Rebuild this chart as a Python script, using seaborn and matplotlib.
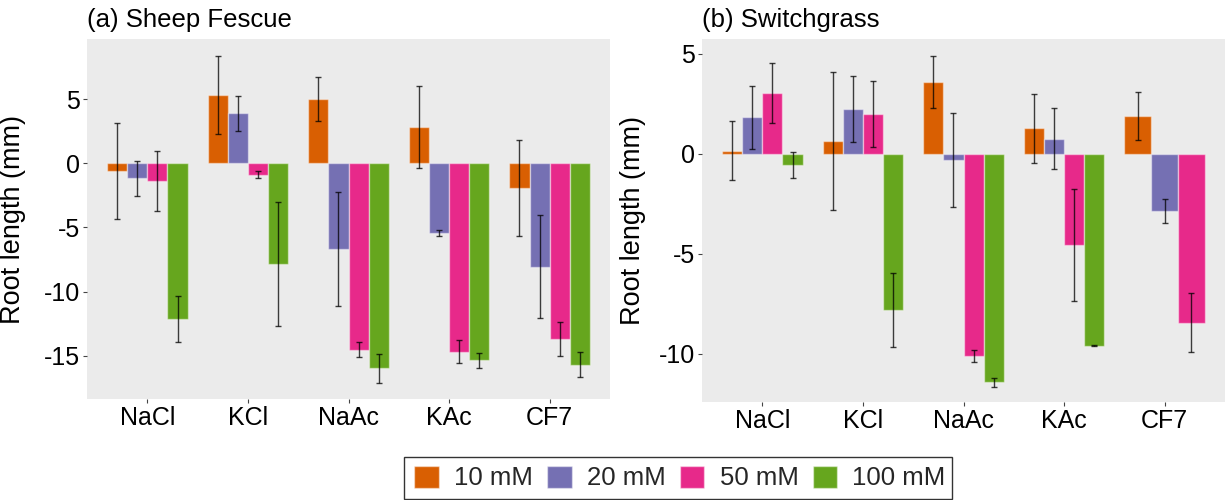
import numpy as np
import pandas as pd
import matplotlib
matplotlib.use("Agg")
import matplotlib.pyplot as plt
import seaborn as sns
from matplotlib.patches import Patch, Rectangle

# ---------------- data ----------------
salts = ["NaCl", "KCl", "NaAc", "KAc", "CF7"]
concentrations = ["10 mM", "20 mM", "50 mM", "100 mM"]
colors = ["#D95F02", "#7570B3", "#E7298A", "#66A61E"]

fescue_10mM = [-0.62, 5.30, 4.99, 2.84, -1.95]
fescue_20mM = [-1.17, 3.90, -6.66, -5.40, -8.08]
fescue_50mM = [-1.37, -0.88, -14.52, -14.69, -13.70]
fescue_100mM = [-12.15, -7.88, -15.99, -15.36, -15.71]
fescue_err_10mM = [3.75, 3.04, 1.72, 3.20, 3.75]
fescue_err_20mM = [1.36, 1.38, 4.45, 0.24, 4.02]
fescue_err_50mM = [2.33, 0.29, 0.61, 0.92, 1.31]
fescue_err_100mM = [1.78, 4.84, 1.15, 0.60, 0.99]

switch_10mM = [0.15, 0.64, 3.58, 1.27, 1.91]
switch_20mM = [1.83, 2.23, -0.30, 0.75, -2.86]
switch_50mM = [3.02, 1.99, -10.13, -4.56, -8.46]
switch_100mM = [-0.55, -7.82, -11.44, -9.61, np.nan]
switch_err_10mM = [1.48, 3.47, 1.30, 1.73, 1.20]
switch_err_20mM = [1.57, 1.66, 2.35, 1.52, 0.62]
switch_err_50mM = [1.50, 1.67, 0.31, 2.80, 1.47]
switch_err_100mM = [0.64, 1.87, 0.22, 0.03, np.nan]

fescue_yticks = [5, 0, -5, -10, -15]
fescue_yticklabels = ["5", "0", "-5", "-10", "-15"]
switch_yticks = [5, 0, -5, -10]
switch_yticklabels = ["5", "0", "-5", "-10"]

titles = ["(a) Sheep Fescue", "(b) Switchgrass"]
ylabel = "Root length (mm)"


def long_frame(means, errs):
    rows = []
    for conc, m, e in zip(concentrations, means, errs):
        for s, v, er in zip(salts, m, e):
            rows.append({"salt": s, "conc": conc, "value": v, "err": er})
    return pd.DataFrame(rows)


df_fescue = long_frame([fescue_10mM, fescue_20mM, fescue_50mM, fescue_100mM],
                       [fescue_err_10mM, fescue_err_20mM, fescue_err_50mM, fescue_err_100mM])
df_switch = long_frame([switch_10mM, switch_20mM, switch_50mM, switch_100mM],
                       [switch_err_10mM, switch_err_20mM, switch_err_50mM, switch_err_100mM])

# ---------------- style ----------------
sns.set_style("white")
plt.rcParams["font.family"] = ["Liberation Sans", "DejaVu Sans"]
plt.rcParams["axes.unicode_minus"] = False

W, H = 1226, 500
fig = plt.figure(figsize=(W / 100, H / 100), dpi=100)

ax_specs = [
    (df_fescue, [87 / W, 1 - 399 / H, 523 / W, 360 / H], (-18.38, 9.70), fescue_yticks, fescue_yticklabels, -0.1166),
    (df_switch, [702 / W, 1 - 402 / H, 523 / W, 363 / H], (-12.42, 5.74), switch_yticks, switch_yticklabels, -0.107),
]

edge = (1, 1, 1, 0.45)
bar_w = 0.8

for (df, pos, ylim, yt, ytl, ylab_x), title in zip(ax_specs, titles):
    ax = fig.add_axes(pos)
    ax.set_facecolor("#EBEBEB")
    sns.barplot(data=df.dropna(subset=["value"]), x="salt", y="value", hue="conc",
                order=salts, hue_order=concentrations, palette=colors, saturation=1,
                errorbar=None, width=bar_w, gap=0, dodge=True, legend=False,
                edgecolor=edge, linewidth=1.0, ax=ax)

    # collect bars and identify category / hue
    n_h = len(concentrations)
    step = bar_w / n_h
    bars = {}
    for p in ax.patches:
        h = p.get_height()
        if not np.isfinite(h):
            continue
        cx = p.get_x() + p.get_width() / 2
        ci = int(round(cx))
        hi = int(round((cx - ci + bar_w / 2 - step / 2) / step))
        bars.setdefault(ci, []).append((hi, p))

    for ci, lst in bars.items():
        lst.sort(key=lambda t: t[0])
        n = len(lst)
        if n < n_h:  # re-center groups with missing levels (like ggplot dodge)
            w = bar_w / n
            for k, (hi, p) in enumerate(lst):
                p.set_x(ci - bar_w / 2 + k * w)
                p.set_width(w)
        for hi, p in lst:
            cx = p.get_x() + p.get_width() / 2
            row = df[(df.salt == salts[ci]) & (df.conc == concentrations[hi])].iloc[0]
            ax.errorbar(cx, row.value, yerr=row.err, fmt="none",
                        ecolor=(0, 0, 0, 0.75), elinewidth=1.0,
                        capsize=2, capthick=1.0, zorder=5)

    ax.set_xlim(-0.6, 4.6)
    ax.set_ylim(*ylim)
    ax.set_yticks(yt)
    ax.set_yticklabels(ytl)
    ax.set_xlabel("")
    ax.set_ylabel(ylabel, fontsize=19.5, color="black")
    ax.yaxis.set_label_coords(ylab_x, 0.5)
    ax.grid(False)
    for s in ax.spines.values():
        s.set_visible(False)
    ax.tick_params(axis="both", which="major", bottom=True, left=True,
                   length=3, width=0.8, color="#444444", labelsize=18,
                   labelcolor="black", pad=2)
    ax.set_title(title, loc="left", fontsize=18.5, color="black", pad=9)

# ---------------- legend ----------------
handles = [Patch(facecolor=c, edgecolor=edge, linewidth=1.0) for c in colors]
fig.legend(handles, concentrations, loc="center",
           bbox_to_anchor=(680 / W, 1 - 478 / H), ncol=4, frameon=False,
           fontsize=18.5, handlelength=0.95, handleheight=0.95,
           handletextpad=0.6, columnspacing=0.55, borderpad=0.2)
fig.add_artist(Rectangle((404 / W, 1 - 499 / H), 548 / W, 42 / H,
                         transform=fig.transFigure, fill=False,
                         edgecolor="#333333", linewidth=1.0))

fig.savefig("out.png", dpi=100)
